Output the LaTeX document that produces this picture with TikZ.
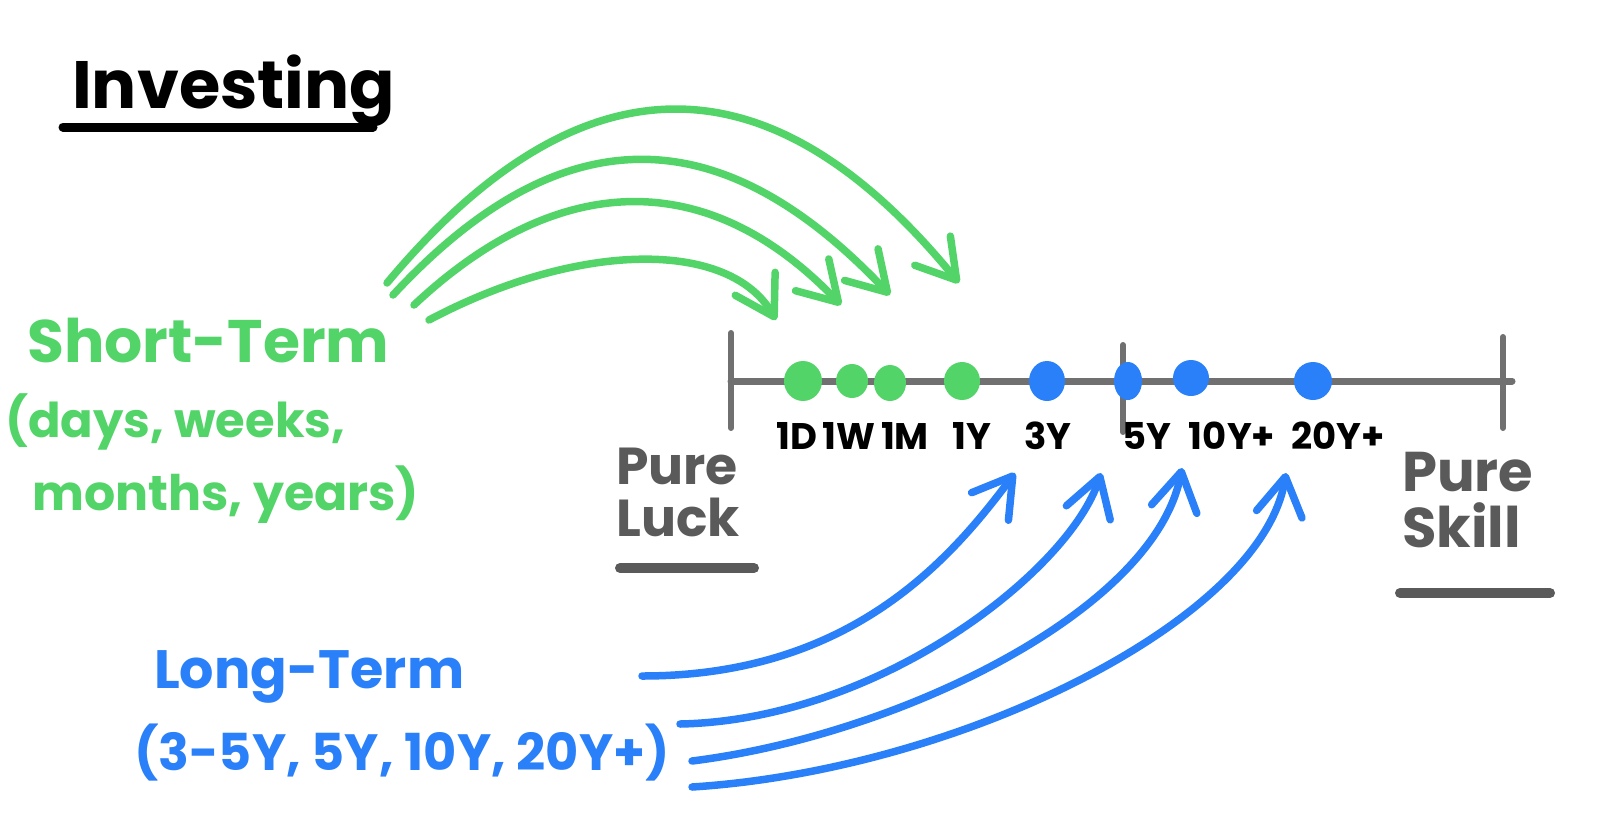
\documentclass[tikz,border=0pt]{standalone}
\usepackage{fontspec}
\setmainfont{Poppins}
\usetikzlibrary{arrows.meta,
	shapes.geometric,
	positioning
}
\definecolor{lgreen}{RGB}{82,212,104}
\definecolor{lblue}{RGB}{42,128,248}
\definecolor{lgray}{RGB}{112,112,112}
\definecolor{tgray}{RGB}{90,90,90}
\tikzset{
	hand/.style={font=\bfseries\fontsize{#1}{#1}\selectfont, inner sep=0pt, anchor=base west},
	tag/.style={font=\bfseries\fontsize{37}{37}\selectfont, inner sep=0pt, anchor=base},
	dot/.style={ellipse, inner sep=0pt, minimum width=36pt, minimum height=38pt},
	penarrow/.style={line width=7.5pt, line cap=round, line join=round, -{Straight Barb[length=38pt,width=46pt,round]}},
	uline/.style={line width=10pt, line cap=round},
	axtick/.style={lgray, line width=6pt, line cap=round},
}

\begin{document}
\begin{tikzpicture}[x=1pt, y=-1pt]
\useasboundingbox (0,0) rectangle (1600,839);

% texts

\node[hand=67] (title) at (72,108) {Investing};
\draw[uline, line width=9pt] (63,127) -- (373,127);

\node[hand=60, text=lgreen] (short) at (27,362) {Short-Term};
\node[hand=48, text=lgreen] (shortA) at (5,437) {(days, weeks,};
\node[hand=49, text=lgreen] (shortB) at (32,510) {months, years)};

\node[hand=54, text=lblue] (long) at (154,688) {Long-Term};
\node[hand=51, text=lblue] (longA) at (134,770) {(3-5Y, 5Y, 10Y, 20Y+)};

\node[hand=52, text=tgray, align=left, anchor=north west] (luck) at (616,448) {Pure\\Luck};
\draw[uline, tgray] (620,568) -- (754,568);

\node[hand=56, text=tgray, align=left, anchor=north west] (skill) at (1402,452) {Pure\\Skill};
\draw[uline, tgray] (1400,593) -- (1550,593);

% scale

\coordinate (axL) at (731,381);
\coordinate (axR) at (1512,381);
\draw[lgray, line width=7pt, line cap=round] (axL) -- (axR);
\draw[axtick] (731,333) -- (731,428);
\draw[axtick] (1123,345) -- (1123,432);
\draw[axtick] (1503,337) -- (1503,428);

\node[dot, fill=lgreen, minimum width=38pt, minimum height=40pt] (d1D) at (803,381) {};
\node[dot, fill=lgreen, minimum width=32pt, minimum height=34pt] (d1W) at (852,381) {};
\node[dot, fill=lgreen, minimum width=32pt, minimum height=36pt] (d1M) at (890,383) {};
\node[dot, fill=lgreen] (d1Y) at (962,381) {};
\node[dot, fill=lblue, minimum height=40pt] (d3Y) at (1047,381) {};
\node[dot, fill=lblue, minimum width=28pt] (d5Y) at (1128,381) {};
\node[dot, fill=lblue, minimum height=36pt] (d10Y) at (1191,378) {};
\node[dot, fill=lblue, minimum width=38pt] (d20Y) at (1313,381) {};

\node[tag] (l1D) at (797,449) {1D};
\node[tag] (l1W) at (849,449) {1W};
\node[tag] (l1M) at (905,449) {1M};
\node[tag] (l1Y) at (972,449) {1Y};
\node[tag] (l3Y) at (1048,449) {3Y};
\node[tag] (l5Y) at (1147,449) {5Y};
\node[tag] (l10Y) at (1232,449) {10Y+};
\node[tag] (l20Y) at (1338,449) {20Y+};

% connections

\coordinate (gsA) at (387,283);  \coordinate (gtA) at (959,283);
\coordinate (gsB) at (393,295);  \coordinate (gtB) at (890,295);
\coordinate (gsC) at (414,305);  \coordinate (gtC) at (841,305);
\coordinate (gsD) at (429,320);  \coordinate (gtD) at (776,320);

\draw[penarrow, lgreen] (gsA) .. controls (580,52) and (770,52) .. (gtA);
\draw[penarrow, lgreen] (gsB) .. controls (560,115) and (720,115) .. (gtB);
\draw[penarrow, lgreen] (gsC) .. controls (560,168) and (710,168) .. (gtC);
\draw[penarrow, lgreen] (gsD) .. controls (580,240) and (730,240) .. (gtD);

\coordinate (bs1) at (642,676);  \coordinate (bt1) at (1015,473);
\coordinate (bs2) at (680,724);  \coordinate (bt2) at (1101,473);
\coordinate (bs3) at (692,761);  \coordinate (bt3) at (1182,468);
\coordinate (bs4) at (692,787);  \coordinate (bt4) at (1286,473);

\draw[penarrow, lblue] (bs1) .. controls (850,676) and (950,560) .. (bt1);
\draw[penarrow, lblue] (bs2) .. controls (880,720) and (1070,570) .. (bt2);
\draw[penarrow, lblue] (bs3) .. controls (900,735) and (1155,610) .. (bt3);
\draw[penarrow, lblue] (bs4) .. controls (960,770) and (1262,620) .. (bt4);

\end{tikzpicture}
\end{document}
